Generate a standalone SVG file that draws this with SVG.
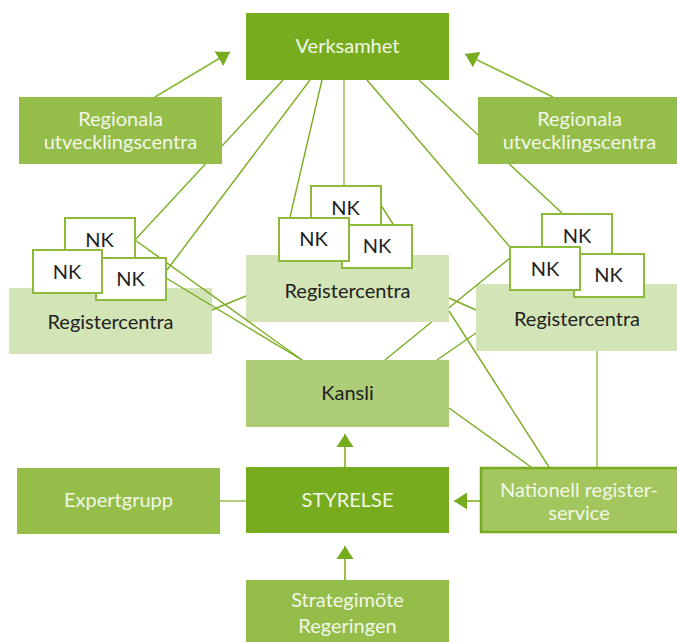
<svg xmlns="http://www.w3.org/2000/svg" width="677" height="642" viewBox="0 0 677 642">
<defs>
<marker id="ah" markerUnits="userSpaceOnUse" markerWidth="13" markerHeight="17" viewBox="0 0 13 17" refX="13" refY="8.5" orient="auto"><path d="M0,0 L13,8.5 L0,17 z" fill="#78ac1f"/></marker>
<style>
.t{font-family:Lato,"Liberation Sans",sans-serif;font-size:20px;text-anchor:middle}
.w{fill:#f2f7e8}
.d{fill:#222}
.dark{fill:#78ac1f}
.mid{fill:#95bd4a}
.kan{fill:#aecd78}
.rc{fill:#d3e4b6}
.nk{fill:#fff;stroke:#8cbb3c;stroke-width:2}
.c line{stroke:#7aad22;stroke-width:1.4;fill:none}
.c line.l{stroke:#9cc45a;stroke-width:1.6}
.c line.a{stroke:#8cbb3c;stroke-width:1.8;marker-end:url(#ah)}
</style>
</defs>
<rect width="677" height="642" fill="#fff"/>
<g id="rc-left"><rect class="rc" x="9" y="288" width="203" height="66"/><text class="t d" x="110.5" y="329">Registercentra</text></g>
<g id="rc-center"><rect class="rc" x="246" y="255" width="203" height="67"/><text class="t d" x="347.5" y="298">Registercentra</text></g>
<g id="rc-right"><rect class="rc" x="476" y="284" width="205" height="67"/><text class="t d" x="577" y="326">Registercentra</text></g>
<g id="connectors" class="c">
<line class="a" x1="155" y1="97" x2="230" y2="52"/>
<line class="a" x1="553" y1="97" x2="465" y2="54"/>
<line x1="283" y1="80" x2="135" y2="240"/>
<line x1="310" y1="80" x2="167" y2="270"/>
<line x1="322" y1="80" x2="290" y2="217"/>
<line class="l" x1="344" y1="80" x2="344" y2="185"/>
<line x1="367" y1="80" x2="510" y2="247"/>
<line x1="419" y1="80" x2="562" y2="213"/>
<line x1="135" y1="240" x2="302" y2="360"/>
<line x1="166" y1="278" x2="302" y2="360"/>
<line x1="212" y1="310" x2="246" y2="296"/>
<line x1="449" y1="298" x2="476" y2="310"/>
<line x1="510" y1="258" x2="449" y2="307.8"/>
<line x1="431.6" y1="322" x2="385" y2="360"/>
<line x1="437" y1="360" x2="476" y2="333"/>
<line x1="370" y1="188" x2="400" y2="235"/>
<line x1="449" y1="311" x2="549" y2="467"/>
<line x1="449" y1="408" x2="531" y2="467"/>
<line class="l" x1="597" y1="351" x2="597" y2="467"/>
<line class="l" x1="220" y1="501" x2="246" y2="501"/>
<line class="a" x1="345" y1="467" x2="345" y2="434"/>
<line class="a" x1="345" y1="580" x2="345" y2="546"/>
<line class="a" x1="481" y1="501" x2="454" y2="501"/>
</g>
<g id="verksamhet"><rect class="dark" x="246" y="13" width="203" height="67"/><text class="t w" x="347.5" y="53">Verksamhet</text></g>
<g id="regionala-left"><rect class="mid" x="19" y="97" width="203" height="67"/><text class="t w" x="120.5" y="126">Regionala</text><text class="t w" x="120.5" y="149">utvecklingscentra</text></g>
<g id="regionala-right"><rect class="mid" x="478" y="97" width="204" height="67"/><text class="t w" x="579.5" y="126">Regionala</text><text class="t w" x="579.5" y="149">utvecklingscentra</text></g>
<g id="nk-left"><rect class="nk" x="65" y="218" width="70" height="43"/><text class="t d" x="99.5" y="247">NK</text>
<rect class="nk" x="96" y="258" width="70" height="42"/><text class="t d" x="130.5" y="286">NK</text>
<rect class="nk" x="33" y="250" width="69" height="43"/><text class="t d" x="67" y="279">NK</text></g>
<g id="nk-center"><rect class="nk" x="311" y="186" width="70" height="43"/><text class="t d" x="345.5" y="215">NK</text>
<rect class="nk" x="342" y="225" width="70" height="43"/><text class="t d" x="377" y="253">NK</text>
<rect class="nk" x="279" y="218" width="70" height="43"/><text class="t d" x="313.5" y="246">NK</text></g>
<g id="nk-right"><rect class="nk" x="542" y="214" width="70" height="43"/><text class="t d" x="577" y="243">NK</text>
<rect class="nk" x="574" y="254" width="70" height="43"/><text class="t d" x="608.5" y="282">NK</text>
<rect class="nk" x="510" y="247" width="70" height="43"/><text class="t d" x="545" y="276">NK</text></g>
<g id="kansli"><rect class="kan" x="246" y="360" width="203" height="67"/><text class="t d" x="347.5" y="400">Kansli</text></g>
<g id="styrelse"><rect class="dark" x="246" y="467" width="203" height="66"/><text class="t w" x="347.5" y="507">STYRELSE</text></g>
<g id="expertgrupp"><rect class="mid" x="17" y="468" width="203" height="66"/><text class="t w" x="118.5" y="507">Expertgrupp</text></g>
<g id="nationell"><rect x="481" y="468" width="200" height="64" fill="#a3c75e" stroke="#78ac1f" stroke-width="2.5"/><text class="t w" x="579" y="497">Nationell register-</text><text class="t w" x="579" y="520">service</text></g>
<g id="strategimote"><rect class="mid" x="246" y="580" width="203" height="70"/><text class="t w" x="347.5" y="607">Strategimöte</text><text class="t w" x="347.5" y="633">Regeringen</text></g>
</svg>
